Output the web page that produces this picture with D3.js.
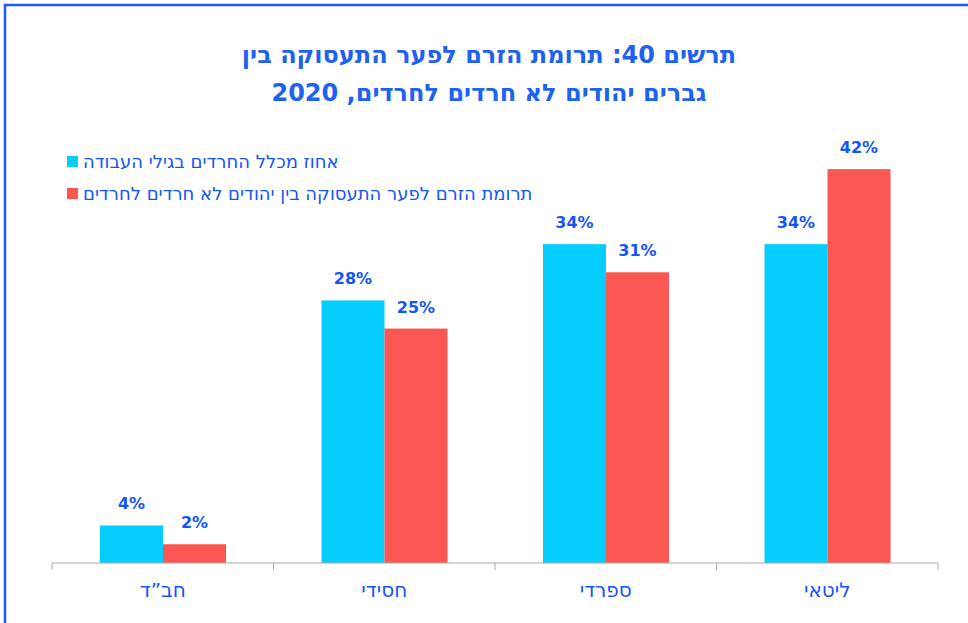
<!DOCTYPE html>
<html><head><meta charset="utf-8">
<script src="https://cdn.jsdelivr.net/npm/d3@7"></script>
<style>body{margin:0;background:#fff}svg{display:block}</style>
</head><body>
<svg id="c" width="968" height="623"></svg>
<script>
const categories = ["חב\u201Dד", "חסידי", "ספרדי", "ליטאי"];
const seriesNames = ["אחוז מכלל החרדים בגילי העבודה", "תרומת הזרם לפער התעסוקה בין יהודים לא חרדים לחרדים"];
const share = [4, 28, 34, 34];
const contribution = [2, 25, 31, 42];
const valueLabels1 = ["4%", "28%", "34%", "34%"];
const valueLabels2 = ["2%", "25%", "31%", "42%"];
const titleLines = ["תרשים 40: תרומת הזרם לפער התעסוקה בין", "גברים יהודים לא חרדים לחרדים, 2020"];
const colors = ["#05CDFE", "#FA5752"];
const blue = "#1455F8";

const svg = d3.select("#c");
const font = "'DejaVu Sans', 'Noto Sans', sans-serif";

// border
svg.append("rect").attr("x", 5).attr("y", 5).attr("width", 1000).attr("height", 700)
  .attr("fill", "none").attr("stroke", "#1A5CF5").attr("stroke-width", 2.5);

// title
svg.append("g").selectAll("text").data(titleLines).join("text")
  .attr("x", 489).attr("y", (d, i) => 63 + i * 38)
  .attr("text-anchor", "middle").attr("font-family", font).attr("font-weight", "bold")
  .attr("font-size", 24).attr("fill", "#1E62F2").text(d => d);

const x0 = d3.scaleBand().domain(categories).range([52, 938]);
const x1 = d3.scaleBand().domain([0, 1]).range([48, 174]);
const y = d3.scaleLinear().domain([0, 45]).range([563, 141]);

const data = categories.map((c, i) => ({c, vals: [share[i], contribution[i]], labels: [valueLabels1[i], valueLabels2[i]]}));

const g = svg.append("g");
const groups = g.selectAll("g.cat").data(data).join("g").attr("transform", d => `translate(${x0(d.c)},0)`);
groups.selectAll("rect").data(d => d.vals.map((v, k) => ({v, k}))).join("rect")
  .attr("x", d => x1(d.k)).attr("width", x1.bandwidth())
  .attr("y", d => y(d.v)).attr("height", d => y(0) - y(d.v))
  .attr("fill", d => colors[d.k]);
groups.selectAll("text.val").data(d => d.vals.map((v, k) => ({v, k, l: d.labels[k]}))).join("text")
  .attr("class", "val")
  .attr("x", d => x1(d.k) + x1.bandwidth() / 2).attr("y", d => y(d.v) - 16)
  .attr("text-anchor", "middle").attr("font-family", font).attr("font-weight", "bold")
  .attr("font-size", 16).attr("fill", blue).text(d => d.l);

// axis
const axis = d3.axisBottom(x0).tickSize(0).tickPadding(0);
const ax = svg.append("g").attr("transform", "translate(0,563)").call(axis);
ax.select(".domain").attr("stroke", "#AAAAAA").attr("d", "M52,0H938");
ax.selectAll(".tick text").attr("y", 27).attr("dy", "0.35em").attr("font-family", font)
  .attr("font-size", 20).attr("fill", blue);
const bounds = [52, ...categories.map(c => x0(c) + x0.bandwidth())];
ax.selectAll("line.sep").data(bounds).join("line").attr("class", "sep")
  .attr("x1", d => d).attr("x2", d => d).attr("y1", 0).attr("y2", 7)
  .attr("stroke", "#AAAAAA");

// legend
const lg = svg.append("g");
seriesNames.forEach((s, i) => {
  lg.append("rect").attr("x", 67).attr("y", 156 + i * 32).attr("width", 11).attr("height", 11).attr("fill", colors[i]);
  lg.append("text").attr("x", 83).attr("y", 168 + i * 32).attr("direction", "rtl").attr("text-anchor", "end")
    .attr("font-family", font).attr("font-size", 18).attr("fill", blue).text(s);
});
</script>
</body></html>
